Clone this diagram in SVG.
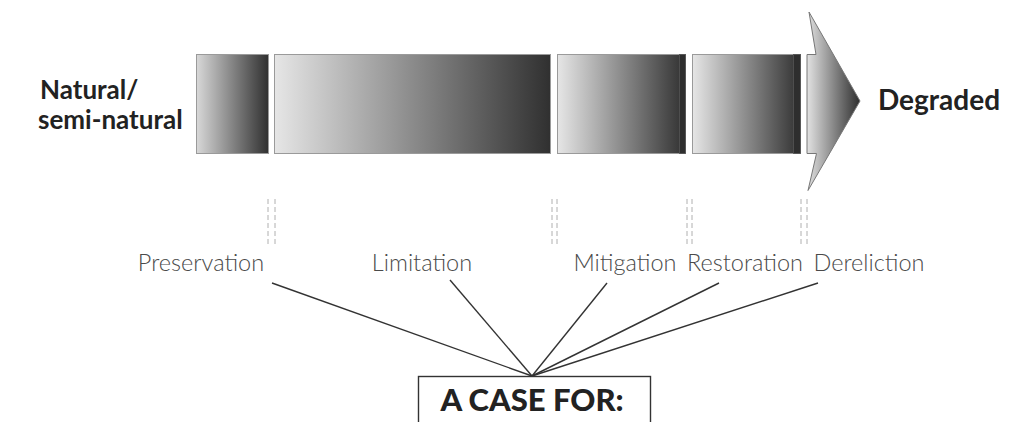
<svg xmlns="http://www.w3.org/2000/svg" width="1014" height="422" viewBox="0 0 1014 422">
  <defs>
    <linearGradient id="g1" x1="0" y1="0" x2="1" y2="0">
      <stop offset="0" stop-color="#d8d8d8"/>
      <stop offset="1" stop-color="#303030"/>
    </linearGradient>
    <linearGradient id="g2" x1="0" y1="0" x2="1" y2="0">
      <stop offset="0" stop-color="#e6e6e6"/>
      <stop offset="1" stop-color="#303030"/>
    </linearGradient>
    <linearGradient id="ga" gradientUnits="userSpaceOnUse" x1="807" y1="0" x2="860" y2="0">
      <stop offset="0" stop-color="#e2e2e2"/>
      <stop offset="1" stop-color="#2e2e2e"/>
    </linearGradient>
  </defs>
  <style>
    .blk { stroke: #9a9a9a; stroke-width: 1; }
    .strip { fill: #2e2e2e; stroke: #555; stroke-width: 0.8; }
    .dash { stroke: #b0b0b0; stroke-width: 1; stroke-dasharray: 5 3; fill: none; }
    .lbl { font-family: Lato, "Open Sans", "Liberation Sans", sans-serif; font-weight: 300; font-size: 23.5px; fill: #4a4a4a; text-anchor: middle; }
    .end { font-family: Lato, "Liberation Sans", sans-serif; font-weight: 700; fill: #222; }
    .ln { stroke: #333; stroke-width: 1.4; fill: none; }
  </style>

  <g id="natural-label">
    <text class="end" x="40" y="99" font-size="26">Natural/</text>
    <text class="end" x="38" y="129" font-size="26">semi-natural</text>
  </g>

  <g id="block-preservation">
    <rect class="blk" x="196.5" y="54.5" width="72" height="99" fill="url(#g1)"/>
  </g>
  <g id="block-limitation">
    <rect class="blk" x="274.5" y="54.5" width="276" height="99" fill="url(#g2)"/>
  </g>
  <g id="block-mitigation">
    <rect class="blk" x="557.5" y="54.5" width="128" height="99" fill="url(#g2)"/>
    <rect class="strip" x="679.5" y="54.5" width="6" height="99"/>
  </g>
  <g id="block-restoration">
    <rect class="blk" x="692.5" y="54.5" width="108" height="99" fill="url(#g2)"/>
    <rect class="strip" x="793.5" y="54.5" width="7" height="99"/>
  </g>
  <g id="arrow">
    <path d="M807,54.5 L816,54.5 L809,12 L860,101 L808,190.5 L816.5,153.5 L807,153.5 Z" fill="url(#ga)" stroke="#777" stroke-width="1"/>
  </g>
  <g id="degraded-label">
    <text class="end" x="878" y="110" font-size="28">Degraded</text>
  </g>

  <g id="dividers">
    <line class="dash" x1="268" y1="199" x2="268" y2="246"/>
    <line class="dash" x1="275" y1="199" x2="275" y2="246"/>
    <line class="dash" x1="552" y1="199" x2="552" y2="246"/>
    <line class="dash" x1="557" y1="199" x2="557" y2="246"/>
    <line class="dash" x1="687" y1="199" x2="687" y2="246"/>
    <line class="dash" x1="692" y1="199" x2="692" y2="246"/>
    <line class="dash" x1="801" y1="199" x2="801" y2="246"/>
    <line class="dash" x1="807" y1="199" x2="807" y2="246"/>
  </g>

  <g id="label-preservation"><text class="lbl" x="201" y="271">Preservation</text></g>
  <g id="label-limitation"><text class="lbl" x="422" y="271">Limitation</text></g>
  <g id="label-mitigation"><text class="lbl" x="625" y="271">Mitigation</text></g>
  <g id="label-restoration"><text class="lbl" x="745" y="271">Restoration</text></g>
  <g id="label-dereliction"><text class="lbl" x="869" y="271">Dereliction</text></g>

  <g id="connectors">
    <line class="ln" x1="272" y1="283" x2="532" y2="376"/>
    <line class="ln" x1="450" y1="280" x2="532" y2="376"/>
    <line class="ln" x1="607" y1="283" x2="532" y2="376"/>
    <line class="ln" x1="719" y1="283" x2="532" y2="376"/>
    <line class="ln" x1="818" y1="283" x2="532" y2="376"/>
  </g>

  <g id="case-box">
    <rect x="418.5" y="376.5" width="232" height="60" fill="#fff" stroke="#333" stroke-width="1.4"/>
    <text x="532" y="411" font-family="Lato, 'Liberation Sans', sans-serif" font-weight="900" font-size="31" fill="#222" text-anchor="middle">A CASE FOR:</text>
  </g>
</svg>
